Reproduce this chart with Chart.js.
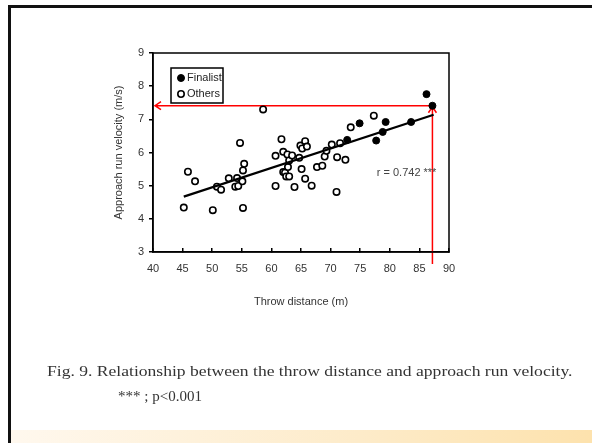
<!DOCTYPE html>
<html>
<head>
<meta charset="utf-8">
<script src="https://cdn.jsdelivr.net/npm/chart.js@4.4.1/dist/chart.umd.min.js"></script>
<style>
  body { margin: 0; background: #fff; }
  #wrap { position: relative; width: 592px; height: 443px; overflow: hidden; background: #fff; }
  #frameTop { position: absolute; left: 8px; top: 5px; width: 584px; height: 3px; background: #111; }
  #frameLeft { position: absolute; left: 8px; top: 5px; width: 3px; height: 438px; background: #111; }
  #strip { position: absolute; left: 11px; top: 430px; width: 581px; height: 13px;
           background: linear-gradient(to right, #fff8ee, #fdebc9 60%, #fde2ad); }
  canvas { position: absolute; left: 0; top: 0; }
  .cap { position: absolute; font-family: 'Liberation Serif', 'DejaVu Serif', serif; color: #333; white-space: nowrap;
         transform-origin: 0 0; }
  #cap1 { left: 47px; top: 362px; font-size: 15.5px; line-height: 18px; }
  #cap2 { left: 118px; top: 387px; font-size: 15px; line-height: 18px; }
</style>
</head>
<body>
<div id="wrap">
  <canvas id="myChart" width="592" height="443"></canvas>
  <div id="frameTop"></div>
  <div id="frameLeft"></div>
  <div id="strip"></div>
  <div class="cap" id="cap1">Fig. 9. Relationship between the throw distance and approach run velocity.</div>
  <div class="cap" id="cap2">*** ; p&lt;0.001</div>
</div>
<script>
// finalists (filled dots)
const finalistX = [86.2, 87.2, 74.9, 79.3, 83.6, 78.8, 77.7, 72.8];
const finalistY = [7.76, 7.41, 6.88, 6.92, 6.92, 6.62, 6.36, 6.38];

// other throwers (open circles)
const othersX = [45.2, 45.9, 47.1, 50.1, 50.8, 51.5, 52.8, 54.2, 53.9, 54.4, 54.7, 55.2, 55.4, 55.1, 55.2,
                 58.6, 60.7, 60.7, 61.7, 62.0, 62.0, 62.3, 62.7, 62.5, 62.8, 63.0, 63.0, 63.5, 63.9,
                 64.7, 64.9, 65.2, 65.1, 65.7, 66.0, 65.7, 66.8, 67.7, 68.6, 69.0, 69.3, 70.2, 71.0,
                 71.1, 71.6, 72.5, 73.4, 77.3];
const othersY = [4.34, 5.42, 5.13, 4.26, 4.97, 4.88, 5.22, 5.23, 4.97, 4.99, 6.29, 5.46, 5.66, 5.13, 4.33,
                 7.30, 5.90, 4.99, 6.40, 6.02, 5.41, 5.39, 5.94, 5.28, 5.56, 5.28, 5.76, 5.91, 4.96,
                 5.84, 6.21, 6.12, 5.50, 6.34, 6.18, 5.21, 5.00, 5.56, 5.60, 5.88, 6.05, 6.24, 4.81,
                 5.86, 6.28, 5.78, 6.76, 7.11];

// regression line end points
const fitX = [45.2, 87.4];
const fitY = [4.67, 7.14];

// ticks
const xTicks = [40, 45, 50, 55, 60, 65, 70, 75, 80, 85, 90];
const yTicks = [3, 4, 5, 6, 7, 8, 9];

// red arrows point at the best throw
const arrowX = 87.2;
const arrowY = 7.41;
const rText = 'r = 0.742 ***';
const rPos = [77.8, 5.38];

const toPoints = (xs, ys) => xs.map((v, i) => ({x: v, y: ys[i]}));
const tickFont = {family: "'Liberation Sans', Arial, sans-serif", size: 11};

// stretch the caption to the width of the original (wide Century face)
const cap1 = document.getElementById('cap1');
cap1.style.transform = 'scaleX(' + (525 / cap1.offsetWidth) + ')';

const extras = {
    id: 'extras',
    beforeDatasetsDraw(chart) {
        const {ctx, chartArea: a, scales: {x, y}} = chart;
        const px = x.getPixelForValue(arrowX);
        const py = y.getPixelForValue(arrowY);
        ctx.save();
        ctx.strokeStyle = '#ff0000';
        ctx.lineWidth = 1.5;
        ctx.beginPath();
        ctx.moveTo(px, py);
        ctx.lineTo(a.left + 2, py);
        ctx.moveTo(a.left + 8, py - 4);
        ctx.lineTo(a.left + 2, py);
        ctx.lineTo(a.left + 8, py + 4);
        ctx.moveTo(px, a.bottom + 12);
        ctx.lineTo(px, py + 1);
        ctx.moveTo(px - 4, py + 7);
        ctx.lineTo(px, py + 1);
        ctx.lineTo(px + 4, py + 7);
        ctx.stroke();
        ctx.restore();
    },
    afterDatasetsDraw(chart) {
        const {ctx, chartArea: a, scales: {x, y}} = chart;
        ctx.save();
        ctx.strokeStyle = '#000';
        ctx.lineWidth = 1.5;
        ctx.strokeRect(a.left, a.top, a.right - a.left, a.bottom - a.top);

        // legend box
        const lx = a.left + 18, ly = a.top + 15;
        ctx.strokeRect(lx, ly, 52, 35);
        ctx.font = "11px 'Liberation Sans', Arial, sans-serif";
        ctx.textBaseline = 'middle';
        chart.data.datasets.filter(d => d.label !== 'fit').forEach((d, i) => {
            const cy = ly + 10 + i * 16;
            ctx.beginPath();
            ctx.arc(lx + 10, cy, d.pointRadius, 0, Math.PI * 2);
            ctx.fillStyle = d.backgroundColor;
            ctx.fill();
            ctx.lineWidth = d.borderWidth;
            ctx.strokeStyle = d.borderColor;
            ctx.stroke();
            ctx.fillStyle = '#222';
            ctx.fillText(d.label, lx + 16, cy);
        });

        ctx.fillStyle = '#444';
        ctx.fillText(rText, x.getPixelForValue(rPos[0]), y.getPixelForValue(rPos[1]));
        ctx.restore();
    }
};

var ctx = document.getElementById('myChart').getContext('2d');
var myChart = new Chart(ctx, {
    type: 'scatter',
    data: {
        datasets: [{
            label: 'Finalist',
            data: toPoints(finalistX, finalistY),
            backgroundColor: '#000',
            borderColor: '#000',
            borderWidth: 1,
            pointRadius: 3.5,
            order: 0
        }, {
            label: 'fit',
            type: 'line',
            data: toPoints(fitX, fitY),
            borderColor: '#000',
            borderWidth: 2.2,
            pointRadius: 0,
            order: 1
        }, {
            label: 'Others',
            data: toPoints(othersX, othersY),
            backgroundColor: '#fff',
            borderColor: '#000',
            borderWidth: 1.6,
            pointRadius: 3.2,
            order: 2
        }]
    },
    options: {
        responsive: false,
        animation: false,
        events: [],
        layout: {padding: {left: 112, top: 53, right: 143, bottom: 134}},
        plugins: {legend: {display: false}, tooltip: {enabled: false}},
        scales: {
            x: {
                type: 'linear',
                min: 40, max: 90,
                afterBuildTicks: s => { s.ticks = xTicks.map(v => ({value: v})); },
                afterFit: s => { s.height = 57; },
                border: {display: true, color: '#000', width: 1.5},
                grid: {drawOnChartArea: false, drawTicks: true, tickLength: -4, color: '#000', lineWidth: 1.5},
                ticks: {color: '#333', font: tickFont, padding: 14, maxRotation: 0},
                title: {display: true, text: 'Throw distance (m)', color: '#333', font: tickFont, padding: 0}
            },
            y: {
                type: 'linear',
                min: 3, max: 9,
                afterBuildTicks: s => { s.ticks = yTicks.map(v => ({value: v})); },
                afterFit: s => { s.width = 41; },
                border: {display: true, color: '#000', width: 1.5},
                grid: {drawOnChartArea: false, drawTicks: true, tickLength: 4, color: '#000', lineWidth: 1.5},
                ticks: {color: '#333', font: tickFont, padding: 5},
                title: {display: true, text: 'Approach run velocity (m/s)', color: '#333', font: tickFont, padding: 0}
            }
        }
    },
    plugins: [extras]
});
</script>
</body>
</html>
